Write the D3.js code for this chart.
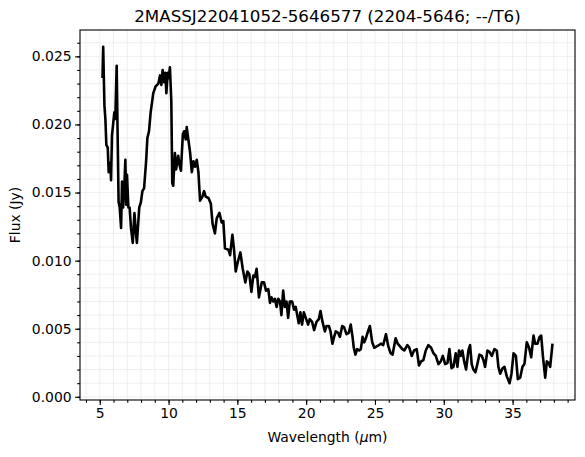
<!DOCTYPE html>
<html>
<head>
<meta charset="utf-8">
<script src="https://cdn.jsdelivr.net/npm/d3@7"></script>
<style>
  body { margin: 0; background: #fff; }
  svg text { font-family: "DejaVu Sans", sans-serif; fill: #000; }
</style>
</head>
<body>
<div id="chart"></div>
<script>
// spectrum (wavelength in um, flux in Jy)
var wavelength = [5.20, 5.25, 5.34, 5.41, 5.48, 5.58, 5.65, 5.77, 5.82, 5.89, 5.96, 6.06, 6.13, 6.23, 6.30,
  6.37, 6.45, 6.55, 6.62, 6.70, 6.80, 6.86, 6.93, 6.98, 7.08, 7.17, 7.27, 7.40, 7.52, 7.64, 7.70, 7.87,
  7.99, 8.10, 8.22, 8.37, 8.46, 8.58, 8.70, 8.77, 8.89, 9.06, 9.26, 9.38, 9.48, 9.57, 9.67, 9.77, 9.84,
  9.94, 10.01, 10.10, 10.20, 10.27, 10.34, 10.46, 10.55, 10.62, 10.70, 10.80, 10.90, 11.04, 11.13, 11.25,
  11.32, 11.45, 11.57, 11.69, 11.81, 11.93, 12.05, 12.17, 12.29, 12.46, 12.58, 12.70, 12.90, 13.07, 13.20,
  13.37, 13.50, 13.70, 13.86, 13.98, 14.10, 14.35, 14.47, 14.64, 14.76, 14.88, 15.03, 15.22, 15.39, 15.58,
  15.73, 15.87, 16.02, 16.16, 16.28, 16.40, 16.57, 16.77, 16.94, 17.08, 17.25, 17.37, 17.49, 17.61, 17.73,
  17.85, 17.97, 18.10, 18.20, 18.33, 18.45, 18.57, 18.69, 18.81, 18.98, 19.12, 19.24, 19.37, 19.46, 19.58,
  19.70, 19.83, 19.97, 20.14, 20.26, 20.43, 20.58, 20.75, 20.92, 21.04, 21.19, 21.36, 21.48, 21.65, 21.77,
  21.91, 22.03, 22.15, 22.32, 22.45, 22.62, 22.76, 22.93, 23.10, 23.24, 23.37, 23.46, 23.58, 23.70, 23.85,
  23.97, 24.10, 24.22, 24.34, 24.46, 24.63, 24.80, 24.95, 25.12, 25.29, 25.43, 25.60, 25.80, 25.97, 26.14,
  26.28, 26.50, 26.65, 26.82, 26.99, 27.13, 27.35, 27.50, 27.67, 27.84, 28.03, 28.20, 28.35, 28.52, 28.69,
  28.88, 29.08, 29.25, 29.42, 29.61, 29.78, 29.93, 30.10, 30.27, 30.41, 30.56, 30.70, 30.87, 30.99, 31.11,
  31.23, 31.35, 31.48, 31.62, 31.79, 31.91, 32.03, 32.15, 32.30, 32.44, 32.59, 32.76, 32.88, 33.00, 33.17,
  33.32, 33.49, 33.68, 33.85, 33.97, 34.10, 34.27, 34.41, 34.58, 34.78, 34.92, 35.07, 35.24, 35.38, 35.55,
  35.72, 35.86, 36.03, 36.20, 36.35, 36.52, 36.64, 36.81, 36.96, 37.08, 37.20, 37.37, 37.49, 37.61, 37.73,
  37.90];
var flux = [0.0234, 0.0257, 0.0214, 0.0204, 0.0185, 0.0183, 0.0165, 0.0172, 0.0159, 0.0192, 0.0199, 0.0209, 0.0204, 0.0243, 0.0192,
  0.0143, 0.0139, 0.0124, 0.0158, 0.0139, 0.0158, 0.0174, 0.0141, 0.0163, 0.0139, 0.0139, 0.0124, 0.0113, 0.0135, 0.0119, 0.0113, 0.0139,
  0.0143, 0.0151, 0.0153, 0.0173, 0.0190, 0.0195, 0.0209, 0.0214, 0.0223, 0.0228, 0.0230, 0.0236, 0.0229, 0.0240, 0.0231, 0.0238, 0.0223,
  0.0238, 0.0234, 0.0242, 0.0217, 0.0157, 0.0155, 0.0179, 0.0167, 0.0172, 0.0177, 0.0170, 0.0166, 0.0193, 0.0195, 0.0189,
  0.0198, 0.0188, 0.0179, 0.0165, 0.0173, 0.0169, 0.0174, 0.0165, 0.0144, 0.0147, 0.0151, 0.0147, 0.0146, 0.0142, 0.0127,
  0.0120, 0.0131, 0.0135, 0.0128, 0.0129, 0.0109, 0.0108, 0.0104, 0.0119, 0.0108, 0.0092, 0.0099, 0.0106, 0.0094, 0.0084,
  0.0092, 0.0090, 0.0077, 0.0089, 0.0088, 0.0094, 0.0073, 0.0084, 0.0084, 0.0078, 0.0079, 0.0069, 0.0073, 0.0070, 0.0072,
  0.0066, 0.0072, 0.0070, 0.0060, 0.0078, 0.0066, 0.0070, 0.0058, 0.0070, 0.0070, 0.0064, 0.0066, 0.0059, 0.0054, 0.0062,
  0.0053, 0.0062, 0.0058, 0.0053, 0.0057, 0.0055, 0.0049, 0.0055, 0.0057, 0.0063, 0.0055, 0.0048, 0.0052, 0.0052, 0.0048,
  0.0039, 0.0044, 0.0048, 0.0047, 0.0044, 0.0052, 0.0051, 0.0046, 0.0047, 0.0053, 0.0044, 0.0036, 0.0031, 0.0035, 0.0034,
  0.0035, 0.0044, 0.0040, 0.0043, 0.0047, 0.0052, 0.0040, 0.0036, 0.0037, 0.0038, 0.0039, 0.0038, 0.0046, 0.0037, 0.0032,
  0.0031, 0.0043, 0.0039, 0.0037, 0.0035, 0.0034, 0.0038, 0.0036, 0.0030, 0.0034, 0.0035, 0.0023, 0.0026, 0.0027, 0.0034,
  0.0038, 0.0036, 0.0032, 0.0030, 0.0024, 0.0026, 0.0030, 0.0024, 0.0025, 0.0035, 0.0021, 0.0022, 0.0032, 0.0022, 0.0034,
  0.0030, 0.0034, 0.0026, 0.0020, 0.0034, 0.0038, 0.0024, 0.0020, 0.0018, 0.0024, 0.0031, 0.0030, 0.0027, 0.0022, 0.0034,
  0.0033, 0.0030, 0.0035, 0.0034, 0.0022, 0.0017, 0.0021, 0.0022, 0.0015, 0.0010, 0.0017, 0.0032, 0.0030, 0.0013, 0.0014,
  0.0022, 0.0024, 0.0040, 0.0036, 0.0029, 0.0045, 0.0039, 0.0039, 0.0044, 0.0045, 0.0030, 0.0014, 0.0026, 0.0025, 0.0022,
  0.0039];
var xTicks = [5, 10, 15, 20, 25, 30, 35];
var yTicks = [0, 0.005, 0.010, 0.015, 0.020, 0.025];
var title = "2MASSJ22041052-5646577 (2204-5646; --/T6)";

var width = 585, height = 457;
var margin = {top: 30, right: 10, bottom: 57, left: 80};
var w = width - margin.left - margin.right,
    h = height - margin.top - margin.bottom;

var svg = d3.select('#chart').append('svg')
    .attr('width', width)
    .attr('height', height);
var g = svg.append('g')
    .attr('transform', 'translate(' + margin.left + ',' + margin.top + ')');

// matplotlib-style 5% padding on both axes
var xExt = d3.extent(wavelength), yExt = d3.extent(flux);
var xPad = (xExt[1] - xExt[0]) * 0.05, yPad = (yExt[1] - yExt[0]) * 0.05;
var x = d3.scaleLinear().domain([xExt[0] - xPad, xExt[1] + xPad]).range([0, w]);
var y = d3.scaleLinear().domain([yExt[0] - yPad, yExt[1] + yPad]).range([h, 0]);

var xMinor = d3.range(4, 40, 1).filter(function(d) { return d > x.domain()[0] && d < x.domain()[1]; });
var yMinor = d3.range(0, 0.027, 0.001).filter(function(d) { return d > y.domain()[0] && d < y.domain()[1]; });

// GRID (minor + major)
g.append('g').selectAll('line')
  .data(xMinor)
  .enter().append('line')
    .attr('x1', function(d) { return x(d); }).attr('x2', function(d) { return x(d); })
    .attr('y1', 0).attr('y2', h)
    .attr('stroke', '#ebebeb').attr('stroke-width', 0.8);
g.append('g').selectAll('line')
  .data(yMinor)
  .enter().append('line')
    .attr('y1', function(d) { return y(d); }).attr('y2', function(d) { return y(d); })
    .attr('x1', 0).attr('x2', w)
    .attr('stroke', '#ebebeb').attr('stroke-width', 0.8);

// SPECTRUM
var line = d3.line()
  .x(function(d, i) { return x(wavelength[i]); })
  .y(function(d) { return y(d); });
g.append('path')
  .datum(flux)
    .attr('d', line)
    .attr('fill', 'none')
    .attr('stroke', '#000')
    .attr('stroke-width', 2.6)
    .attr('stroke-linejoin', 'round');

// AXES
var xAxis = g.append('g')
    .attr('transform', 'translate(0,' + h + ')')
    .call(d3.axisBottom(x).tickValues(xTicks).tickSize(4.9).tickPadding(3.5).tickFormat(d3.format('d')));
var xAxisMinor = g.append('g')
    .attr('transform', 'translate(0,' + h + ')')
    .call(d3.axisBottom(x).tickValues(xMinor).tickSize(2.8).tickFormat(''));
var yAxis = g.append('g')
    .call(d3.axisLeft(y).tickValues(yTicks).tickSize(4.9).tickPadding(3.5).tickFormat(d3.format('.3f')));
var yAxisMinor = g.append('g')
    .call(d3.axisLeft(y).tickValues(yMinor).tickSize(2.8).tickFormat(''));

[xAxis, xAxisMinor, yAxis, yAxisMinor].forEach(function(a) {
  a.select('.domain').remove();
  a.selectAll('line').attr('stroke', '#000').attr('stroke-width', 1.1);
  a.selectAll('text').attr('font-size', '13.9px').style('font-family', '"DejaVu Sans", sans-serif');
});

// FRAME
g.append('rect')
    .attr('width', w).attr('height', h)
    .attr('fill', 'none').attr('stroke', '#000').attr('stroke-width', 1.1);

// LABELS
svg.append('text')
    .attr('x', margin.left + w / 2).attr('y', 22)
    .attr('text-anchor', 'middle')
    .attr('font-size', '16.7px')
    .text(title);

var xl = svg.append('text')
    .attr('x', margin.left + w / 2).attr('y', 442)
    .attr('text-anchor', 'middle')
    .attr('font-size', '13.9px');
xl.append('tspan').text('Wavelength (');
xl.append('tspan').attr('font-style', 'italic').text('\u03bc');
xl.append('tspan').text('m)');

svg.append('text')
    .attr('transform', 'translate(20,' + (margin.top + h / 2) + ') rotate(-90)')
    .attr('text-anchor', 'middle')
    .attr('font-size', '13.9px')
    .text('Flux (Jy)');
</script>
</body>
</html>
